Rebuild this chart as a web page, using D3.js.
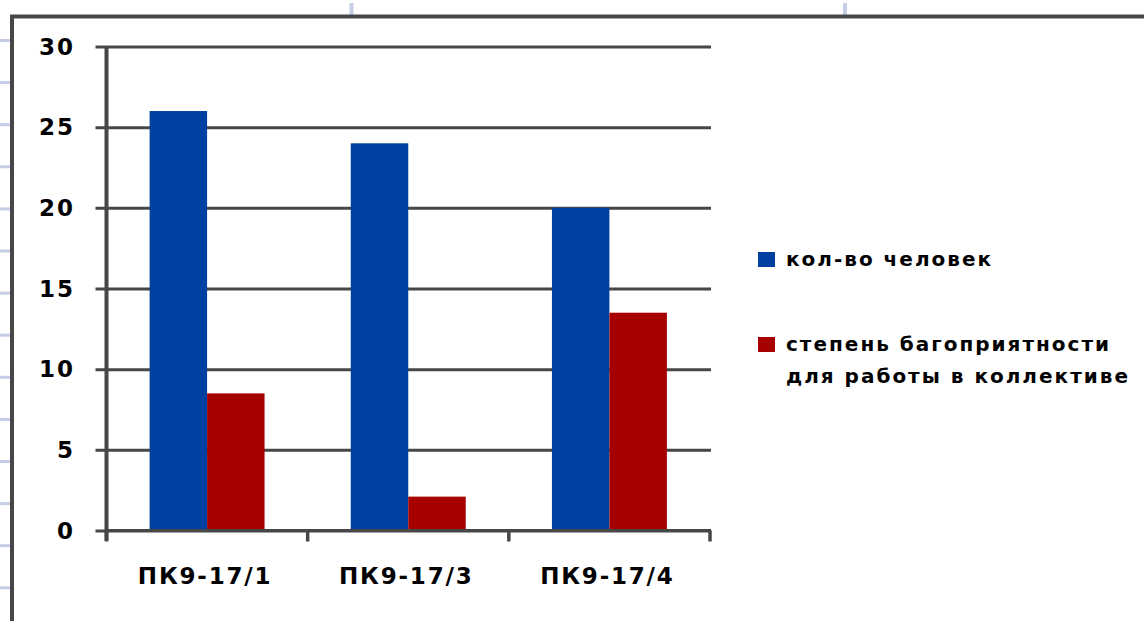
<!DOCTYPE html>
<html>
<head>
<meta charset="utf-8">
<script src="https://cdn.jsdelivr.net/npm/d3@7"></script>
<style>
  html, body { margin: 0; padding: 0; background: #fff; }
  svg { display: block; }
  text { font-family: "DejaVu Sans", sans-serif; fill: #000; font-weight: bold; }
</style>
</head>
<body>
<svg id="chart" width="1144" height="621"></svg>
<script>
// Groups and series
const categories = ["ПК9-17/1", "ПК9-17/3", "ПК9-17/4"];
const seriesNames = ["кол-во человек", "степень багоприятности для работы в коллективе"];
const legendLines = [["кол-во человек"], ["степень багоприятности", "для работы в коллективе"]];
const peopleCount = [26, 24, 20];
const favorability = [8.5, 2.1, 13.5];
const yTicks = [0, 5, 10, 15, 20, 25, 30];
const seriesColors = ["#0040a0", "#a60000"];

const values = [peopleCount, favorability];
const rows = categories.map((c, i) => ({ cat: c, vals: values.map(v => v[i]) }));

const svg = d3.select("#chart");
const W = 1144, H = 621;
svg.append("rect").attr("width", W).attr("height", H).attr("fill", "#fff");

// Spreadsheet cell borders peeking around the chart object
const sheet = svg.append("g");
[351.5, 845].forEach(x => sheet.append("rect")
  .attr("x", x - 2).attr("y", 3).attr("width", 4).attr("height", 12).attr("fill", "#c5cde6"));
d3.range(14).forEach(k => sheet.append("rect")
  .attr("x", 0).attr("y", 39 + k * 42.1).attr("width", 10).attr("height", 3).attr("fill", "#c5cde6"));

// Chart object frame
svg.append("path")
  .attr("d", `M${W},16.5 H12 V${H}`)
  .attr("fill", "none").attr("stroke", "#474747").attr("stroke-width", 4);

// Scales
const plot = { left: 106.5, right: 710, top: 46.5, bottom: 530.5 };
const y = d3.scaleLinear().domain([0, 30]).range([plot.bottom, plot.top]);
const x0 = d3.scaleBand().domain(categories).range([plot.left, plot.right]).padding(0);
const x1 = d3.scaleBand().domain(d3.range(seriesNames.length))
  .range([0, x0.bandwidth()]).paddingInner(0).paddingOuter(0.75);

// Horizontal gridlines
const gGrid = svg.append("g").attr("transform", `translate(${plot.left - 11},0)`);
gGrid.call(d3.axisRight(y).tickValues(yTicks).tickSize(plot.right + 1 - plot.left + 11).tickFormat(""));
gGrid.select(".domain").remove();
gGrid.selectAll(".tick line").attr("stroke", "#474747").attr("stroke-width", 3);

// Bars
const groups = svg.append("g").selectAll("g").data(rows).join("g")
  .attr("transform", d => `translate(${x0(d.cat)},0)`);
groups.selectAll("rect").data(d => d.vals.map((v, i) => ({ v, i }))).join("rect")
  .attr("x", d => x1(d.i))
  .attr("width", x1.bandwidth())
  .attr("y", d => y(d.v))
  .attr("height", d => y(0) - y(d.v))
  .attr("fill", d => seriesColors[d.i]);

// Y axis line and labels
svg.append("line")
  .attr("x1", plot.left).attr("x2", plot.left)
  .attr("y1", plot.top).attr("y2", plot.bottom + 10)
  .attr("stroke", "#474747").attr("stroke-width", 4);
svg.append("g").selectAll("text").data(yTicks).join("text")
  .attr("x", 75).attr("y", d => y(d))
  .attr("text-anchor", "end").attr("dominant-baseline", "central")
  .attr("font-size", 23).attr("letter-spacing", 2)
  .text(d => d);

// X axis with ticks between groups
const gx = svg.append("g").attr("transform", `translate(0,${plot.bottom})`);
gx.call(d3.axisBottom(x0).tickValues([]).tickSizeOuter(0));
gx.select(".domain").attr("d", `M${plot.left},0H${plot.right + 1}`)
  .attr("stroke", "#474747").attr("stroke-width", 3);
const boundaries = categories.map(c => x0(c)).concat([x0(categories[categories.length - 1]) + x0.bandwidth()]);
gx.selectAll("line.sep").data(boundaries).join("line").attr("class", "sep")
  .attr("x1", d => d).attr("x2", d => d).attr("y1", 0).attr("y2", 11)
  .attr("stroke", "#474747").attr("stroke-width", 3.5);
gx.selectAll("text.cat").data(categories).join("text").attr("class", "cat")
  .attr("x", d => x0(d) + x0.bandwidth() / 2 - 2).attr("y", 53)
  .attr("text-anchor", "middle").attr("font-size", 23).attr("letter-spacing", 1.8)
  .text(d => d);

// Legend
const legendY = [252, 337];
const lg = svg.append("g");
legendLines.forEach((lines, i) => {
  lg.append("rect").attr("x", 758).attr("y", legendY[i]).attr("width", 17).attr("height", 15)
    .attr("fill", seriesColors[i]);
  lines.forEach((t, j) => lg.append("text")
    .attr("x", 786).attr("y", legendY[i] + 14 + j * 32)
    .attr("font-size", 20).attr("letter-spacing", 2)
    .text(t));
});
</script>
</body>
</html>
